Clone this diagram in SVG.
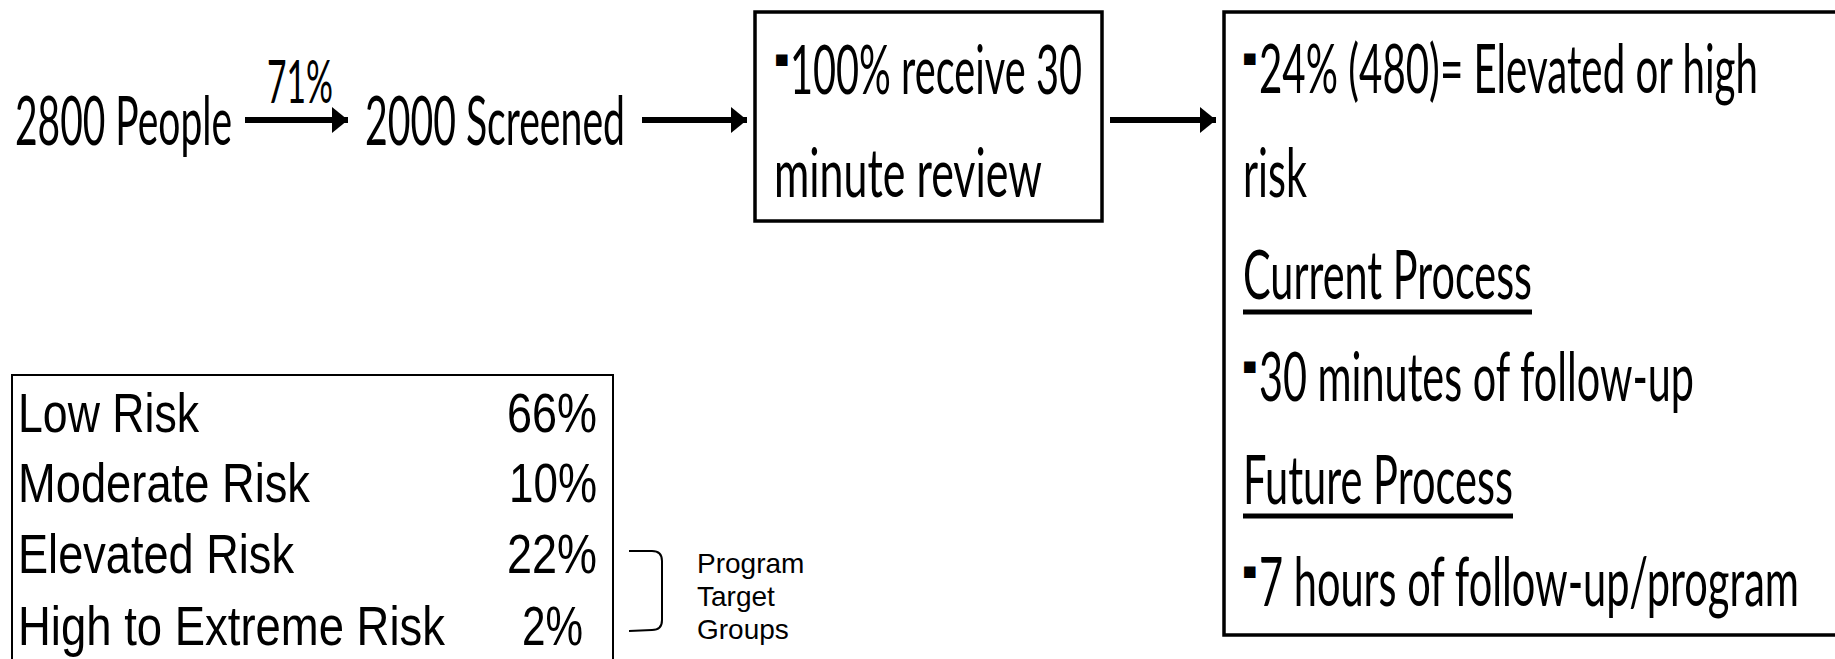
<svg xmlns="http://www.w3.org/2000/svg" width="1835" height="659" viewBox="0 0 1835 659">
<defs>
<style>
.cal{font-family:Lato,"Liberation Sans",sans-serif;font-size:68px;fill:#000}
.pct{font-family:Lato,"Liberation Sans",sans-serif;font-size:60px;fill:#000}
.bul{font-family:"DejaVu Sans",sans-serif;font-size:23px;fill:#000}
.tab{font-family:"Liberation Sans",Arial,sans-serif;font-size:56px;fill:#000}
.sm{font-family:"Liberation Sans",Arial,sans-serif;font-size:28px;fill:#000}
.box{fill:#fff;stroke:#000;stroke-width:3.5}
.tbox{fill:#fff;stroke:#000;stroke-width:2}
.arr{stroke:#000;stroke-width:6;fill:none}
.ul{stroke:#000;stroke-width:5}
</style>
<marker id="ah" markerUnits="userSpaceOnUse" markerWidth="18" markerHeight="28" refX="16" refY="13" orient="auto">
<path d="M0,0 L16,13 L0,26 Z" fill="#000"/>
</marker>
</defs>
<rect width="1835" height="659" fill="#fff"/>

<g id="people">
<text class="cal" x="15" y="145" textLength="217" lengthAdjust="spacingAndGlyphs">2800 People</text>
</g>
<g id="screened">
<text class="cal" x="365" y="145" textLength="260" lengthAdjust="spacingAndGlyphs">2000 Screened</text>
</g>
<g id="review">
<rect class="box" x="755" y="12" width="347" height="209"/>
<text class="bul" x="774" y="66">▪</text>
<text class="cal" x="790" y="94" textLength="292" lengthAdjust="spacingAndGlyphs">100% receive 30</text>
<text class="cal" x="774" y="197" textLength="268" lengthAdjust="spacingAndGlyphs">minute review</text>
</g>
<g id="followup">
<rect class="box" x="1224" y="12" width="620" height="623"/>
<text class="bul" x="1242" y="65">▪</text>
<text class="cal" x="1259" y="93" textLength="499" lengthAdjust="spacingAndGlyphs">24% (480)= Elevated or high</text>
<text class="cal" x="1243" y="197" textLength="64" lengthAdjust="spacingAndGlyphs">risk</text>
<text class="cal" x="1243" y="299" textLength="289" lengthAdjust="spacingAndGlyphs">Current Process</text>
<line class="ul" x1="1243" y1="312" x2="1532" y2="312"/>
<text class="bul" x="1242" y="373">▪</text>
<text class="cal" x="1259" y="401" textLength="435" lengthAdjust="spacingAndGlyphs">30 minutes of follow-up</text>
<text class="cal" x="1243" y="504" textLength="270" lengthAdjust="spacingAndGlyphs">Future Process</text>
<line class="ul" x1="1243" y1="516" x2="1513" y2="516"/>
<text class="bul" x="1242" y="578">▪</text>
<text class="cal" x="1259" y="606" textLength="540" lengthAdjust="spacingAndGlyphs">7 hours of follow-up/program</text>
</g>
<g id="risk-table">
<rect class="tbox" x="12" y="375" width="601" height="300"/>
<text class="tab" x="18" y="432" textLength="181" lengthAdjust="spacingAndGlyphs">Low Risk</text>
<text class="tab" x="597" y="432" text-anchor="end" textLength="90" lengthAdjust="spacingAndGlyphs">66%</text>
<text class="tab" x="18" y="502" textLength="292" lengthAdjust="spacingAndGlyphs">Moderate Risk</text>
<text class="tab" x="597" y="502" text-anchor="end" textLength="88" lengthAdjust="spacingAndGlyphs">10%</text>
<text class="tab" x="18" y="573" textLength="276" lengthAdjust="spacingAndGlyphs">Elevated Risk</text>
<text class="tab" x="597" y="573" text-anchor="end" textLength="90" lengthAdjust="spacingAndGlyphs">22%</text>
<text class="tab" x="18" y="645" textLength="427" lengthAdjust="spacingAndGlyphs">High to Extreme Risk</text>
<text class="tab" x="522" y="645" textLength="61" lengthAdjust="spacingAndGlyphs">2%</text>
</g>
<g id="target-groups">
<path d="M629,551 L652,551 Q662,551 662,561 L662,620 Q662,630 652,630 L629,631" fill="none" stroke="#000" stroke-width="2"/>
<text class="sm" x="697" y="573">Program</text>
<text class="sm" x="697" y="606">Target</text>
<text class="sm" x="697" y="639">Groups</text>
</g>
<g id="connectors">
<line class="arr" x1="245" y1="120" x2="348" y2="120" marker-end="url(#ah)"/>
<text class="pct" x="267" y="103" textLength="66" lengthAdjust="spacingAndGlyphs">71%</text>
<line class="arr" x1="642" y1="120" x2="747" y2="120" marker-end="url(#ah)"/>
<line class="arr" x1="1110" y1="120" x2="1216" y2="120" marker-end="url(#ah)"/>
</g>
</svg>
